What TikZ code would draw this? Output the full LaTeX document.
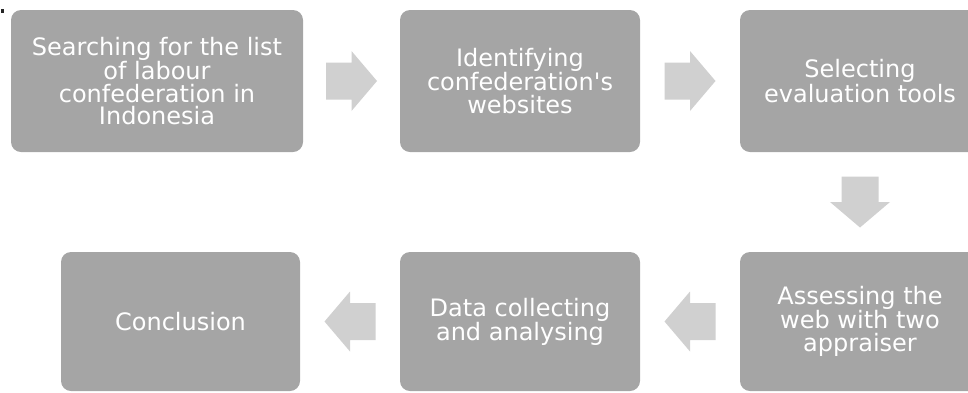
\documentclass[tikz,border=0pt]{standalone}
\usepackage{fontspec}
\setmainfont{DejaVu Sans}
\usetikzlibrary{calc}
\definecolor{boxgray}{HTML}{A5A5A5}
\definecolor{arrgray}{HTML}{D0D0D0}
\tikzset{
  stepbox/.style={rectangle, rounded corners=10pt, fill=boxgray, draw=none,
    text=white, align=center, inner sep=0pt,
    font=\fontsize{24pt}{22.5pt}\selectfont},
  arr/.style={fill=arrgray, draw=none}
}
\newcommand\blockarrow[2]{%
  \fill[arr, shift={(#1)}, rotate=#2] (-25.5,-18.5) -- (0,-18.5) -- (0,-30) -- (25.5,0) -- (0,30) -- (0,18.5) -- (-25.5,18.5) -- cycle;}
\begin{document}
\begin{tikzpicture}[x=1pt, y=-1pt]
\useasboundingbox (0,0) rectangle (968,392);
\clip (0,0) rectangle (968,392);
\fill[black!85] (0.5,9) rectangle (4,12.5);
\node[stepbox, minimum width=292pt, minimum height=142pt] (b1) at (157,81)
  {Searching for the list\\of labour\\confederation in\\Indonesia};
\node[stepbox, minimum width=240pt, minimum height=142pt] (b2) at (520,81)
  {Identifying\\confederation\textquotesingle s\\websites};
\node[stepbox, minimum width=240pt, minimum height=142pt] (b3) at (860,81)
  {Selecting\\evaluation tools};
\node[stepbox, minimum width=240pt, minimum height=139pt] (b4) at (860,321.5)
  {Assessing the\\web with two\\appraiser};
\node[stepbox, minimum width=240pt, minimum height=139pt] (b5) at (520,321.5)
  {Data collecting\\and analysing};
\node[stepbox, minimum width=239pt, minimum height=139pt] (b6) at (180.5,321.5)
  {Conclusion};
\coordinate (a1) at ($(b1.east)!0.5!(b2.west)$);
\coordinate (a2) at ($(b2.east)!0.5!(b3.west)$);
\coordinate (a3) at ($(b3.south)!0.5!(b4.north)$);
\coordinate (a4) at ($(b4.west)!0.5!(b5.east)$);
\coordinate (a5) at ($(b5.west)!0.5!(b6.east)$);
\blockarrow{a1}{0}
\blockarrow{a2}{0}
\blockarrow{a3}{-90}
\blockarrow{a4}{180}
\blockarrow{a5}{180}
\end{tikzpicture}
\end{document}
